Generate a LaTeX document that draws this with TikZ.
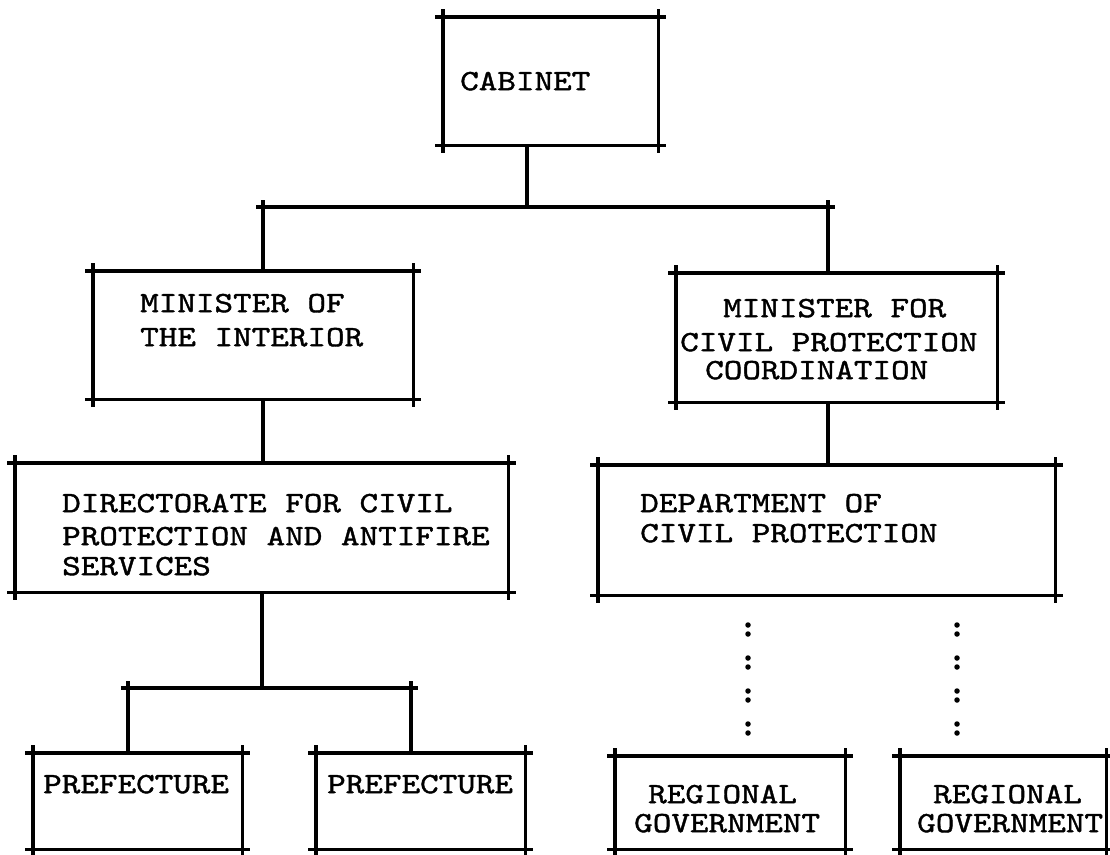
\documentclass[tikz,border=0pt]{standalone}
\usepackage{fontspec}
\newfontfamily\twfont[Extension=.otf, FakeStretch=1.2, FakeBold=1.3]{lmmono10-regular}
\newcommand\skbox[1]{%
  \draw[ln] ([xshift=-8pt]#1.north west) -- ([xshift=8pt]#1.north east);
  \draw[ln] ([xshift=-8pt]#1.south west) -- ([xshift=8pt]#1.south east);
  \draw[ln] ([yshift=8pt]#1.north west) -- ([yshift=-8pt]#1.south west);
  \draw[ln] ([yshift=8pt]#1.north east) -- ([yshift=-8pt]#1.south east);}
\tikzset{
  ln/.style={line width=3.4pt, line cap=butt, black},
  colons/.style={line width=5.5pt, line cap=round, dash pattern=on 0pt off 9pt on 0pt off 24pt, black},
  bx/.style n args={4}{anchor=north west, inner sep=0pt, align=left,
    font=\twfont\fontsize{29.5}{31}\selectfont,
    text width=#1, text height=#2, text depth=#3,
    execute at begin node={\leftskip=#4\spaceskip=18.6pt\relax\xspaceskip=18.6pt\relax}},
}
\begin{document}
\begin{tikzpicture}[x=1pt,y=-1pt]
\useasboundingbox (0,0) rectangle (1110,854);
% boxes
\node[bx={215pt}{73pt}{55pt}{17pt}] (cab) at (443,17) {CABINET};
\node[bx={320pt}{41pt}{87pt}{47pt}] (mi) at (93,271) {MINISTER OF\\[3pt]THE INTERIOR};
\node[bx={321pt}{44pt}{85pt}{4pt}] (mcp) at (676,273) {\hspace*{43pt}MINISTER FOR\\[3pt]CIVIL PROTECTION\\[-3pt]\hspace*{25pt}COORDINATION};
\node[bx={493pt}{49pt}{80pt}{47pt}] (dir) at (15,463) {DIRECTORATE FOR CIVIL\\[2pt]PROTECTION AND ANTIFIRE\\[-1pt]SERVICES};
\node[bx={457pt}{47pt}{83pt}{42pt}] (dep) at (598,465) {DEPARTMENT OF\\[-1pt]CIVIL PROTECTION};
\node[bx={209pt}{40pt}{56pt}{10pt}] (pref1) at (33,753) {PREFECTURE};
\node[bx={209pt}{40pt}{56pt}{11pt}] (pref2) at (316,753) {PREFECTURE};
\node[bx={230pt}{47pt}{46pt}{19pt}] (reg1) at (615,756) {\hspace*{14pt}REGIONAL\\[-2pt]GOVERNMENT};
\node[bx={206pt}{47pt}{46pt}{17pt}] (reg2) at (900,756) {\hspace*{16pt}REGIONAL\\[-2pt]GOVERNMENT};
\foreach \n in {cab,mi,mcp,dir,dep,pref1,pref2,reg1,reg2} {\skbox{\n}}
% junctions
\coordinate (j0) at (527,207);
\coordinate (jL) at (263,207);
\coordinate (jR) at (828,207);
\coordinate (p0) at (262,688);
\coordinate (pL) at (128,688);
\coordinate (pR) at (411,688);
% connectors
\draw[ln] (cab.south -| j0) -- (j0);
\draw[ln] ([xshift=-7pt]jL) -- ([xshift=7pt]jR);
\draw[ln] ([yshift=7pt]jL) -- (mi.north -| jL);
\draw[ln] ([yshift=7pt]jR) -- (mcp.north -| jR);
\draw[ln] (mi.south -| jL) -- (dir.north -| jL);
\draw[ln] (mcp.south -| jR) -- (dep.north -| jR);
\draw[ln] (dir.south -| p0) -- (p0);
\draw[ln] ([xshift=-7pt]pL) -- ([xshift=7pt]pR);
\draw[ln] ([yshift=7pt]pL) -- (pref1.north -| pL);
\draw[ln] ([yshift=7pt]pR) -- (pref2.north -| pR);
% dotted links
\coordinate (d1a) at (748,625);
\coordinate (d1b) at (748,734);
\coordinate (d2a) at (957,625);
\coordinate (d2b) at (957,734);
\draw[colons] (d1a) -- (d1b);
\draw[colons] (d2a) -- (d2b);
\end{tikzpicture}
\end{document}
